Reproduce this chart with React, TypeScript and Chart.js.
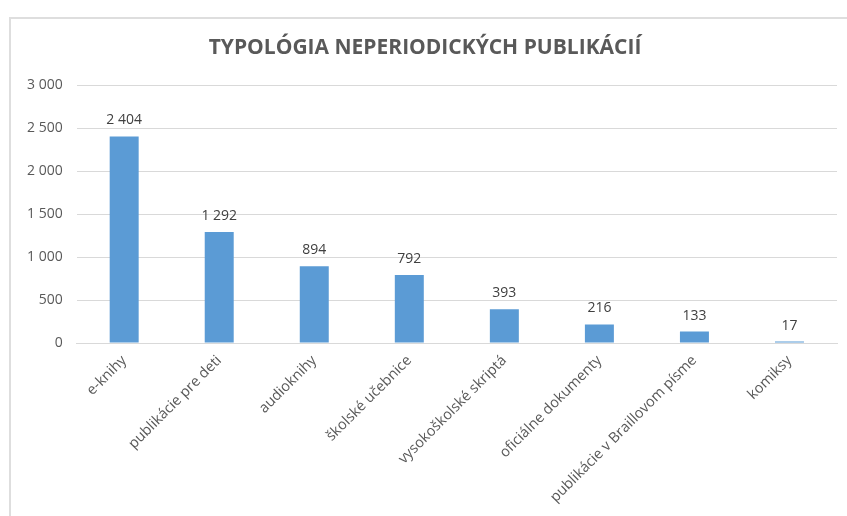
import React, { useEffect, useRef } from "react";
import { Chart, registerables } from "chart.js";

Chart.register(...registerables);

const TITLE = "TYPOLÓGIA NEPERIODICKÝCH PUBLIKÁCIÍ";
const categories = [
  "e-knihy",
  "publikácie pre deti",
  "audioknihy",
  "školské učebnice",
  "vysokoškolské skriptá",
  "oficiálne dokumenty",
  "publikácie v Braillovom písme",
  "komiksy",
];
const values = [2404, 1292, 894, 792, 393, 216, 133, 17];
const Y_MIN = 0;
const Y_MAX = 3000;
const Y_STEP = 500;

const FONT = "'Open Sans', 'Noto Sans', sans-serif";

function fmt(n: number): string {
  return String(Math.round(n)).replace(/\B(?=(\d{3})+(?!\d))/g, " ");
}

const dataLabelPlugin = {
  id: "dataLabels",
  afterDatasetsDraw(chart: any) {
    const ctx = chart.ctx;
    const meta = chart.getDatasetMeta(0);
    ctx.save();
    ctx.font = `14px ${FONT}`;
    ctx.fillStyle = "#404040";
    ctx.textAlign = "center";
    ctx.textBaseline = "alphabetic";
    meta.data.forEach((bar: any, i: number) => {
      ctx.fillText(fmt(values[i]), bar.x, bar.y - 12);
    });
    ctx.restore();
  },
};

export default function App() {
  const ref = useRef<HTMLCanvasElement | null>(null);

  useEffect(() => {
    if (!ref.current) return;
    const chart = new Chart(ref.current, {
      type: "bar",
      data: {
        labels: categories,
        datasets: [
          {
            data: values,
            backgroundColor: "#5B9BD5",
            borderWidth: 0,
            barPercentage: 0.305,
            categoryPercentage: 1,
          },
        ],
      },
      options: {
        responsive: false,
        animation: false,
        layout: { padding: { left: 13, right: 10, top: 0, bottom: 1 } },
        plugins: {
          legend: { display: false },
          tooltip: { enabled: false },
          title: {
            display: true,
            text: TITLE,
            color: "#595959",
            font: { family: FONT, size: 21, weight: "bold" },
            padding: { top: 35, bottom: 25 },
          },
        },
        scales: {
          x: {
            grid: { display: false, drawTicks: false },
            border: { display: true, color: "#d9d9d9", width: 1 },
            ticks: {
              color: "#595959",
              font: { family: FONT, size: 14.5 },
              minRotation: 45,
              maxRotation: 45,
              autoSkip: false,
              padding: 9,
            },
          },
          y: {
            min: Y_MIN,
            max: Y_MAX,
            grid: { color: "#d9d9d9", drawTicks: false },
            border: { display: false },
            ticks: {
              stepSize: Y_STEP,
              color: "#595959",
              font: { family: FONT, size: 14 },
              padding: 14,
              callback: (v: any) => fmt(Number(v)),
            },
          },
        },
      },
      plugins: [dataLabelPlugin],
    });
    return () => chart.destroy();
  }, []);

  return (
    <div
      style={{
        position: "fixed",
        left: 0,
        top: 0,
        width: 847,
        height: 516,
        overflow: "hidden",
        background: "#fff",
      }}
    >
      <div
        style={{
          position: "absolute",
          left: 9,
          top: 17,
          width: 900,
          height: 600,
          borderTop: "2px solid #dedede",
          borderLeft: "2px solid #dedede",
        }}
      />
      <canvas
        ref={ref}
        width={847}
        height={516}
        style={{ position: "absolute", left: 0, top: 0 }}
      />
    </div>
  );
}
